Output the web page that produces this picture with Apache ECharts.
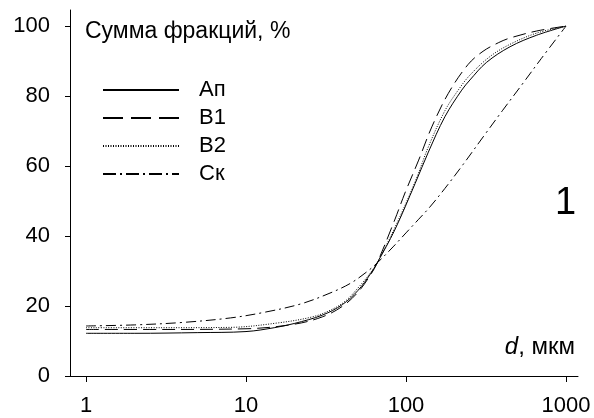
<!DOCTYPE html>
<html>
<head>
<meta charset="utf-8">
<script src="https://cdn.jsdelivr.net/npm/echarts@6/dist/echarts.min.js"></script>
<style>
html,body{margin:0;padding:0;background:#fff;}
#chart{width:594px;height:418px;}
</style>
</head>
<body>
<div id="chart"></div>
<script>
// Data (d in µm, cumulative fraction in %)
const xTicks = [1, 10, 100, 1000];
const yTicks = [0, 20, 40, 60, 80, 100];
const seriesNames = ['Ап', 'В1', 'В2', 'Ск'];

const apD = [1, 2, 5, 10, 15, 20, 30, 40, 50, 60, 66, 85, 114, 138, 175, 223, 251, 318, 447, 656, 1000];
const apV = [12.2, 12.2, 12.4, 12.7, 13.8, 15.0, 17.4, 20.4, 24.4, 29.2, 32.3, 41.7, 55.0, 64.0, 74.1, 81.7, 84.6, 89.6, 94.1, 97.4, 100];

const b1D = [1, 3, 10, 20, 30, 40, 50, 60, 66, 85, 98.5, 120, 145, 184, 244, 303, 380, 447, 656, 1000];
const b1V = [13.3, 13.3, 13.5, 14.8, 16.9, 19.9, 23.9, 28.9, 32.3, 44.6, 52.3, 61.7, 71.2, 80.8, 89.0, 92.8, 95.3, 96.6, 98.6, 100];

const b2D = [1, 3, 8, 16, 26, 34, 42, 52, 60, 66, 85, 114, 138, 175, 212, 251, 335, 447, 656, 1000];
const b2V = [13.8, 13.8, 13.9, 15.2, 16.9, 18.9, 21.5, 26.0, 29.5, 32.3, 42.3, 55.5, 65.5, 75.8, 81.7, 86.0, 91.3, 94.8, 98.0, 100];

const ckD = [1, 2, 4, 8, 13, 22, 33.5, 45, 57, 66, 83, 100, 120, 141, 175, 227, 311, 400, 539, 700, 1000];
const ckV = [14.3, 14.6, 15.3, 16.6, 18.2, 20.6, 23.7, 26.5, 29.8, 32.3, 36.9, 40.9, 44.8, 48.3, 53.6, 60.4, 69.0, 75.8, 83.7, 90.7, 100];

function pairs(xs, ys) { return xs.map((x, i) => [x, ys[i]]); }

const chart = echarts.init(document.getElementById('chart'), null, {renderer: 'canvas'});
const FONT = 'Liberation Sans, Arial, sans-serif';

function lineSeries(name, xs, ys, type) {
  return {
    name: name,
    type: 'line',
    data: pairs(xs, ys),
    smooth: 0.35,
    symbol: 'none',
    showSymbol: false,
    silent: true,
    animation: false,
    itemStyle: {color: '#000'},
    lineStyle: {color: '#000', width: 1, type: type}
  };
}

chart.setOption({
  animation: false,
  backgroundColor: '#fff',
  grid: {left: 70, right: 16, top: 10, bottom: 42, containLabel: false},
  title: {
    text: 'Сумма фракций, %',
    left: 80, top: 15,
    textStyle: {fontFamily: FONT, fontSize: 23, fontWeight: 'normal', color: '#000'}
  },
  legend: {
    orient: 'vertical',
    left: 97, top: 74,
    itemWidth: 76, itemHeight: 20, itemGap: 6,
    data: [
      {name: seriesNames[0], lineStyle: {type: 'solid'}},
      {name: seriesNames[1], lineStyle: {type: [20, 8]}},
      {name: seriesNames[2], lineStyle: {type: [1, 1.5]}},
      {name: seriesNames[3], lineStyle: {type: [13, 4, 2, 4]}}
    ],
    itemStyle: {opacity: 0},
    selectedMode: false,
    textStyle: {fontFamily: FONT, fontSize: 22, color: '#000', padding: [0, 0, 0, 15]}
  },
  xAxis: {
    type: 'log',
    logBase: 10,
    min: Math.pow(10, -0.1),
    max: Math.pow(10, 3.075),
    axisLine: {show: true, lineStyle: {color: '#000', width: 1}},
    axisTick: {show: true, inside: false, length: 6, lineStyle: {color: '#000'}, customValues: xTicks},
    axisLabel: {show: true, margin: 19, fontFamily: FONT, fontSize: 22, color: '#000',
      customValues: xTicks, formatter: v => String(Math.round(v))},
    minorTick: {show: false},
    splitLine: {show: false}
  },
  yAxis: {
    type: 'value',
    min: 0,
    max: 104.6,
    axisLine: {show: true, lineStyle: {color: '#000', width: 1}},
    axisTick: {show: true, inside: false, length: 5, lineStyle: {color: '#000'}, customValues: yTicks},
    axisLabel: {show: true, margin: 20, fontFamily: FONT, fontSize: 22, color: '#000',
      customValues: yTicks, formatter: v => String(Math.round(v))},
    splitLine: {show: false}
  },
  graphic: [
    {
      type: 'text', right: 19, top: 335,
      style: {
        text: '{i|d}, мкм',
        rich: {i: {fontStyle: 'italic', fontFamily: FONT, fontSize: 24, fill: '#000'}},
        font: '24px ' + FONT, fill: '#000'
      }
    },
    {
      type: 'text', left: 555, top: 185,
      style: {text: '1', font: '38px ' + FONT, fill: '#000'}
    }
  ],
  series: [
    lineSeries(seriesNames[0], apD, apV, 'solid'),
    lineSeries(seriesNames[1], b1D, b1V, [13, 6]),
    lineSeries(seriesNames[2], b2D, b2V, [1, 1.5]),
    lineSeries(seriesNames[3], ckD, ckV, [10, 4, 2, 4])
  ]
});
</script>
</body>
</html>
